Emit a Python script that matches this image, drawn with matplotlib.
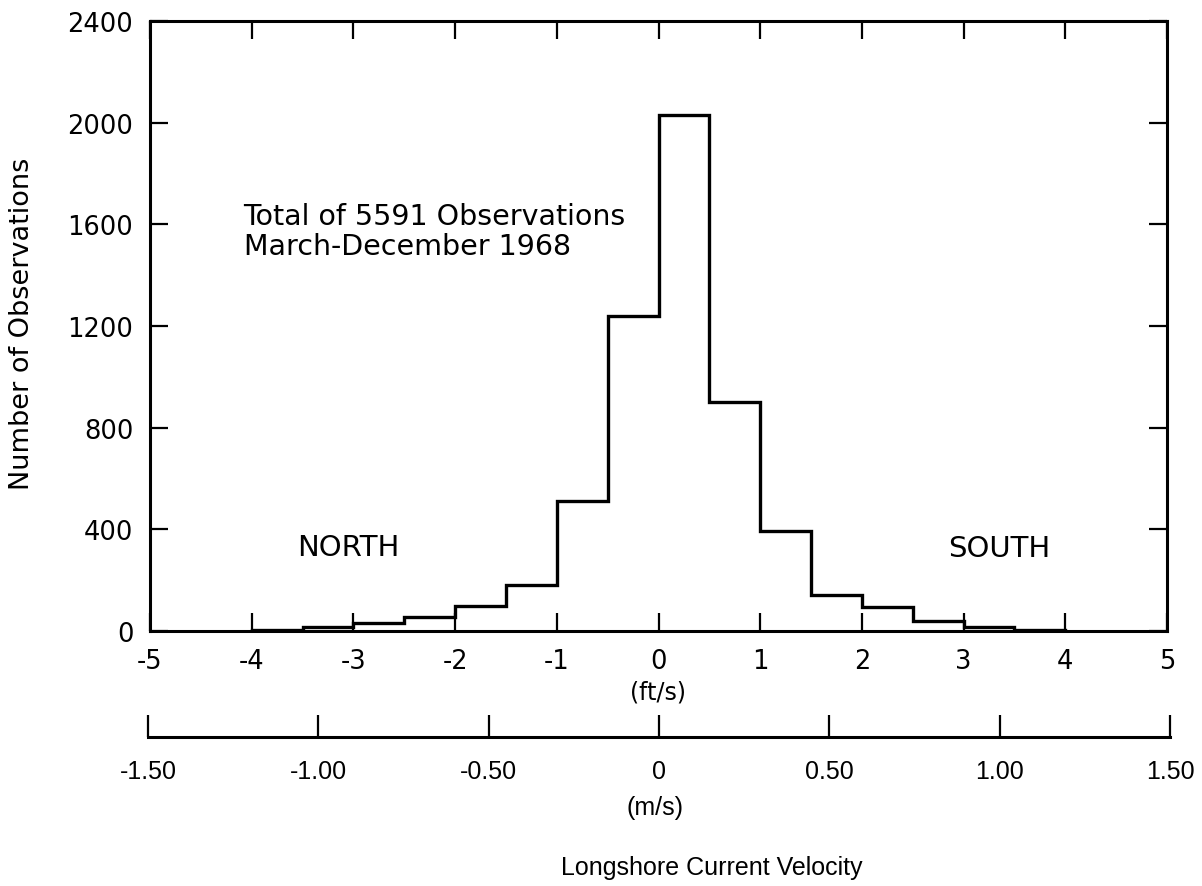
import matplotlib.pyplot as plt

# Bin edges (ft/s) and number of observations in each bin
binEdges = [-4.0, -3.5, -3.0, -2.5, -2.0, -1.5, -1.0, -0.5, 0.0,
            0.5, 1.0, 1.5, 2.0, 2.5, 3.0, 3.5, 4.0]
counts = [5, 15, 30, 55, 100, 180, 510, 1240,
          2030, 900, 395, 140, 95, 40, 15, 5]

ftTicks = [-5, -4, -3, -2, -1, 0, 1, 2, 3, 4, 5]
ftLabels = ["-5", "-4", "-3", "-2", "-1", "0", "1", "2", "3", "4", "5"]
countTicks = [0, 400, 800, 1200, 1600, 2000, 2400]
msTicks = [-1.5, -1.0, -0.5, 0.0, 0.5, 1.0, 1.5]
msLabels = ["-1.50", "-1.00", "-0.50", "0", "0.50", "1.00", "1.50"]

plt.rcParams["font.family"] = ["DejaVu Sans"]

fig = plt.figure(figsize=(12.02, 8.87), dpi=100)

# Main histogram axes
ax = fig.add_axes([150 / 1202, 1 - 632 / 887, (1167 - 150) / 1202, (632 - 22) / 887])
ax.stairs(counts, binEdges, baseline=0, color="black", linewidth=2.4)

ax.set_xlim(-5, 5)
ax.set_ylim(0, 2400)
ax.set_xticks(ftTicks)
ax.set_xticklabels(ftLabels)
ax.set_yticks(countTicks)
ax.tick_params(direction="in", length=13, width=1.6, labelsize=18.5,
               top=True, right=True, pad=12)
ax.tick_params(axis="x", pad=12)
for spine in ax.spines.values():
    spine.set_linewidth(2.2)

ax.set_ylabel("Number of Observations", fontsize=19.5)
ax.yaxis.label.set_verticalalignment("center")
ax.yaxis.set_label_coords(-0.126, 0.505)
ax.text(0.5, -0.1, "(ft/s)", transform=ax.transAxes, ha="center",
        va="center", fontsize=17)

ax.text(-4.08, 1575, "Total of 5591 Observations\nMarch-December 1968",
        fontsize=20.5, ha="left", va="center", linespacing=1.1)
ax.text(-3.05, 330, "NORTH", fontsize=21, ha="center", va="center")
ax.text(3.35, 325, "SOUTH", fontsize=21, ha="center", va="center")

# Second scale in m/s below the plot
ax2 = fig.add_axes([148 / 1202, 1 - 738 / 887, (1170 - 148) / 1202, 0.001])
ax2.set_xlim(-1.5, 1.5)
ax2.set_yticks([])
for side in ["top", "left", "right"]:
    ax2.spines[side].set_visible(False)
ax2.spines["bottom"].set_linewidth(2.2)
ax2.set_xticks(msTicks)
ax2.set_xticklabels(msLabels, family="Liberation Sans")
ax2.tick_params(axis="x", direction="in", length=16, width=1.6,
                labelsize=18, pad=16)

fig.text(655 / 1202, 1 - 808 / 887, "(m/s)", ha="center", va="center",
         fontsize=18, family="Liberation Sans")
fig.text(712 / 1202, 1 - 868 / 887, "Longshore Current Velocity",
         ha="center", va="center", fontsize=18, family="Liberation Sans")

fig.savefig("out.png", dpi=100, facecolor="white")
